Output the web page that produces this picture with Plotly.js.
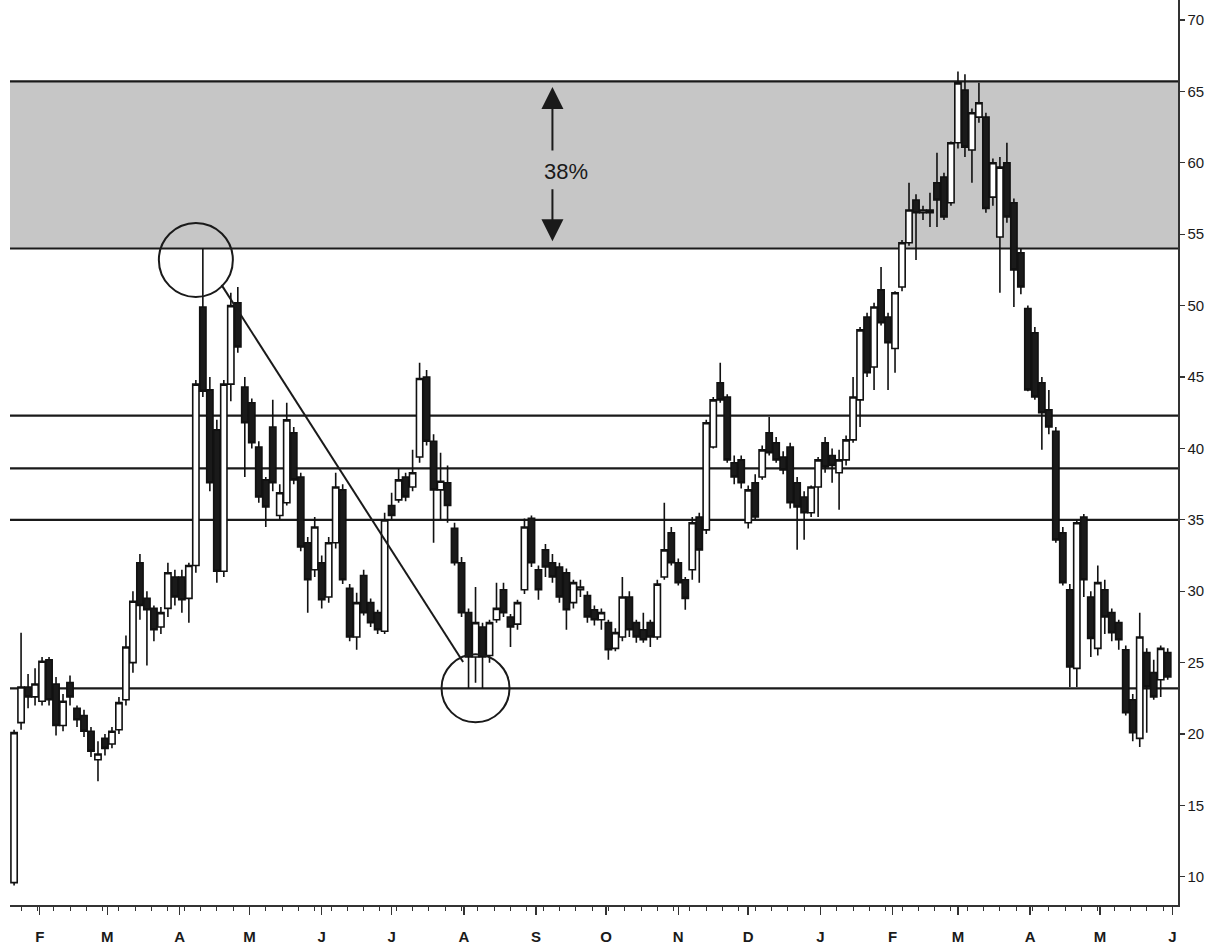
<!DOCTYPE html>
<html>
<head>
<meta charset="utf-8">
<script src="https://cdn.plot.ly/plotly-3.0.1.min.js"></script>
<style>html,body{margin:0;padding:0;background:#fff;}#chart{width:1220px;height:947px;}</style>
</head>
<body>
<div id="chart"></div>
<script>
// ---- data ----
var startDate = '2000-01-21';
var stepDays = 3;
var opens  = [9.6,20.8,23.3,22.6,22.3,25.2,23.5,20.6,23.6,21.8,21.3,20.2,18.2,19.7,19.3,20.3,22.4,25.0,32.0,29.5,
              28.8,27.5,28.8,31.0,31.0,29.5,31.8,49.9,44.1,41.3,31.4,44.5,50.2,44.3,43.2,40.1,37.8,41.5,35.3,36.2,
              41.1,38.0,33.4,31.5,32.0,29.6,33.4,37.1,30.2,26.8,31.1,29.2,28.5,27.2,36.0,36.4,38.0,37.3,39.4,45.0,
              40.5,37.1,37.6,34.4,32.0,28.5,25.4,27.5,25.5,28.0,30.1,28.2,27.7,30.1,35.1,31.5,32.9,32.0,31.7,31.3,
              29.2,30.1,29.7,28.7,28.0,27.8,26.0,26.8,29.6,27.8,27.3,27.8,26.8,31.0,34.1,32.0,30.8,31.5,35.2,34.3,
              40.1,44.6,43.6,39.0,39.2,34.8,37.6,38.0,41.1,40.4,39.4,40.1,37.6,36.6,35.5,37.3,40.4,39.5,38.3,39.2,
              40.6,43.4,49.2,45.7,51.1,49.2,47.0,51.3,54.4,57.4,56.5,56.7,58.6,59.0,57.2,61.4,65.1,60.9,63.2,63.2,
              57.6,54.8,60.0,57.2,53.7,49.8,48.1,44.6,42.7,41.2,34.1,30.1,24.6,35.2,29.6,26.0,30.1,28.5,27.8,25.9,
              22.4,19.7,25.7,24.3,23.8,25.7];
var highs  = [20.3,27.1,24.2,24.6,25.4,25.4,24.0,22.8,24.1,22.0,21.7,20.5,19.5,20.0,20.5,22.6,26.9,30.0,32.6,30.0,
              29.0,28.9,32.0,31.5,31.5,32.0,44.8,54.0,45.0,42.0,44.8,50.9,51.3,45.0,43.5,40.5,38.0,43.4,37.5,43.2,
              41.5,38.3,33.8,35.2,32.5,33.8,38.3,37.5,30.5,29.9,31.5,29.5,28.7,35.5,36.9,38.6,38.3,39.9,46.0,45.5,
              41.0,39.7,38.8,34.8,32.4,28.8,30.3,27.8,28.0,30.6,30.6,28.4,29.4,35.1,35.3,31.8,33.3,32.6,32.0,31.6,
              30.8,30.8,30.0,29.0,28.8,28.0,27.4,31.0,30.0,28.0,28.5,28.0,30.8,36.2,34.5,32.3,31.0,35.2,35.5,42.0,
              43.6,46.0,43.8,39.5,39.5,37.4,38.2,40.2,42.2,40.8,39.8,40.4,38.0,37.0,37.4,39.4,40.8,40.0,39.9,40.9,
              45.0,48.5,49.5,50.2,52.7,49.5,51.0,54.6,58.6,57.8,57.0,57.9,60.7,59.3,61.5,66.4,66.2,63.8,65.6,63.5,
              60.3,60.4,61.4,57.5,54.0,50.0,48.5,45.0,44.1,41.5,34.5,30.5,35.0,35.4,30.0,31.8,30.8,28.8,28.0,26.2,
              22.8,28.5,26.0,25.2,26.2,26.0];
var lows   = [9.4,20.3,21.8,22.0,22.0,22.0,19.9,20.2,22.0,20.5,19.8,18.4,16.7,18.5,19.0,20.0,22.0,24.3,28.0,24.8,
              26.5,27.0,28.2,29.0,28.5,27.8,31.3,43.6,37.0,30.6,31.0,43.3,46.7,38.0,40.0,36.2,34.5,37.0,35.0,36.0,
              37.5,32.8,28.5,31.0,28.8,29.2,33.0,30.5,26.5,25.9,28.3,27.5,27.0,27.0,35.0,36.2,36.3,37.0,39.0,40.2,
              33.4,35.0,34.8,31.8,28.2,23.2,23.6,23.2,25.0,27.8,28.2,26.1,27.3,29.8,31.7,29.4,31.0,30.6,29.2,27.3,
              28.8,29.6,27.8,27.6,27.3,25.2,25.8,26.5,26.8,26.4,26.4,26.1,26.6,30.8,31.8,30.4,28.7,30.8,30.6,34.0,
              40.0,43.2,39.0,37.5,37.2,34.4,35.0,37.8,39.5,39.0,38.2,35.8,32.9,33.6,35.2,35.2,38.3,37.6,35.7,38.8,
              40.4,41.5,45.0,44.1,48.6,44.1,45.3,51.0,54.2,53.2,56.0,55.5,55.5,56.0,57.0,61.0,60.4,58.6,62.8,56.5,
              57.0,50.9,55.8,49.9,50.8,44.0,43.4,39.9,41.0,33.4,30.4,23.3,23.3,29.6,25.4,25.5,27.0,26.5,25.9,21.3,
              19.5,19.1,20.1,22.4,22.6,23.8];
var closes = [20.1,23.3,22.6,23.5,25.1,22.4,20.6,22.3,22.6,21.0,20.2,18.8,18.6,19.0,20.2,22.2,26.1,29.3,29.0,28.7,
              27.3,28.5,31.3,29.6,29.4,31.8,44.5,44.0,37.6,31.4,44.5,50.0,47.1,41.8,40.4,36.6,35.9,37.6,36.9,42.0,
              37.8,33.1,30.8,34.5,29.4,33.4,37.3,30.8,26.8,29.2,28.5,27.8,27.3,35.0,35.3,37.8,36.6,38.3,44.9,40.5,
              37.1,37.7,36.0,32.0,28.5,25.4,27.8,25.4,27.8,28.8,28.5,27.5,29.2,34.5,32.0,30.1,31.7,31.0,29.6,28.7,
              30.6,30.3,28.2,28.0,28.5,25.9,27.1,29.6,27.3,26.8,26.6,26.8,30.5,32.9,32.0,30.6,29.5,34.8,32.9,41.8,
              43.4,43.4,39.2,38.0,37.6,37.1,35.2,39.9,39.7,39.2,38.5,36.2,35.9,35.5,37.3,39.2,38.7,38.8,39.2,40.6,
              43.6,48.3,45.3,49.9,48.8,47.4,50.9,54.4,56.7,56.5,56.7,56.5,57.4,56.2,61.4,65.6,61.1,63.5,64.2,56.8,
              60.0,59.7,56.2,52.5,51.3,44.1,43.6,42.5,41.5,33.6,30.6,24.7,34.8,30.8,26.7,30.6,28.2,27.1,26.6,21.5,
              20.1,26.8,23.3,22.6,26.0,24.0];

var levels = [65.7, 54.0, 42.3, 38.6, 35.0, 23.2];
var band = [54.0, 65.7];
var monthStarts = ['2000-02-01','2000-03-01','2000-04-01','2000-05-01','2000-06-01','2000-07-01','2000-08-01',
                   '2000-09-01','2000-10-01','2000-11-01','2000-12-01','2001-01-01','2001-02-01','2001-03-01',
                   '2001-04-01','2001-05-01','2001-06-01'];
var monthLabels = ['F','M','A','M','J','J','A','S','O','N','D','J','F','M','A','M','J'];
var trendLine = {x: ['2000-04-19', '2000-07-31 16:00'], y: [51.45, 25.04]};
var circles = [{x: '2000-04-08', y: 53.2, r: 37}, {x: '2000-08-06', y: 23.2, r: 34}];
var moveArrow = {x: '2000-09-08', top: 65.3, bottom: 54.5, textX: '2000-09-14', textY: 59.4, gapTop: 60.75, gapBottom: 58.25, label: '38%'};

// ---- build ----
var dates = [];
var t0 = Date.parse(startDate + 'T00:00:00Z');
for (var i = 0; i < opens.length; i++) {
  dates.push(new Date(t0 + i * stepDays * 86400000).toISOString().slice(0, 10));
}

var trace = {
  type: 'candlestick',
  x: dates, open: opens, high: highs, low: lows, close: closes,
  increasing: {line: {color: '#111', width: 1.6}, fillcolor: '#ffffff'},
  decreasing: {line: {color: '#111', width: 1.6}, fillcolor: '#1a1a1a'},
  whiskerwidth: 0,
  hoverinfo: 'skip',
  showlegend: false
};

var shapes = [];
shapes.push({type: 'rect', xref: 'paper', x0: 0, x1: 1, yref: 'y', y0: band[0], y1: band[1],
             fillcolor: '#c6c6c6', line: {width: 0}, layer: 'below'});
levels.forEach(function (v) {
  shapes.push({type: 'line', xref: 'paper', x0: 0, x1: 1, yref: 'y', y0: v, y1: v,
               line: {color: '#1a1a1a', width: 2.2}, layer: 'below'});
});
shapes.push({type: 'line', xref: 'x', yref: 'y', x0: trendLine.x[0], x1: trendLine.x[1],
             y0: trendLine.y[0], y1: trendLine.y[1], line: {color: '#1a1a1a', width: 2}});
circles.forEach(function (c) {
  shapes.push({type: 'circle', xref: 'x', yref: 'y', xsizemode: 'pixel', ysizemode: 'pixel',
               xanchor: c.x, yanchor: c.y, x0: -c.r, x1: c.r, y0: -c.r, y1: c.r,
               line: {color: '#1a1a1a', width: 2}, fillcolor: 'rgba(0,0,0,0)'});
});

var annotations = [
  {x: moveArrow.x, y: moveArrow.top, ax: moveArrow.x, ay: moveArrow.gapTop, xref: 'x', yref: 'y', axref: 'x', ayref: 'y',
   text: '', showarrow: true, arrowhead: 2, arrowsize: 2.2, arrowwidth: 2, arrowcolor: '#1a1a1a'},
  {x: moveArrow.x, y: moveArrow.bottom, ax: moveArrow.x, ay: moveArrow.gapBottom, xref: 'x', yref: 'y', axref: 'x', ayref: 'y',
   text: '', showarrow: true, arrowhead: 2, arrowsize: 2.2, arrowwidth: 2, arrowcolor: '#1a1a1a'},
  {x: moveArrow.textX, y: moveArrow.textY, xref: 'x', yref: 'y', text: moveArrow.label, showarrow: false,
   font: {family: 'Liberation Sans, Arial, sans-serif', size: 22, color: '#1a1a1a'}}
];

var layout = {
  width: 1220, height: 947,
  margin: {l: 10, r: 42, t: 0, b: 42},
  paper_bgcolor: '#ffffff', plot_bgcolor: '#ffffff',
  showlegend: false,
  boxgap: 0.1,
  boxgroupgap: 0,
  xaxis: {
    type: 'date',
    range: ['2000-01-19 06:00', '2001-06-03 10:00'],
    rangeslider: {visible: false},
    showgrid: false, zeroline: false,
    showline: true, linecolor: '#333', linewidth: 1.5,
    tickmode: 'array', tickvals: monthStarts, ticktext: monthLabels,
    ticks: 'outside', ticklen: 8, tickwidth: 1.5, tickcolor: '#333',
    ticklabelstandoff: 9,
    tickfont: {family: 'Liberation Sans, Arial, sans-serif', size: 15, color: '#1a1a1a', weight: 'bold'},
    minor: {dtick: 7 * 86400000, tick0: '2000-01-24', ticks: 'outside', ticklen: 4, tickwidth: 1, tickcolor: '#333', showgrid: false}
  },
  yaxis: {
    side: 'right',
    range: [8.03, 71.4],
    dtick: 5, tick0: 0,
    showgrid: false, zeroline: false,
    showline: true, linecolor: '#333', linewidth: 1.5,
    ticks: 'outside', ticklen: 5, tickwidth: 1.2, tickcolor: '#333',
    tickfont: {family: 'Liberation Sans, Arial, sans-serif', size: 15, color: '#1a1a1a'}
  },
  shapes: shapes,
  annotations: annotations
};

Plotly.newPlot('chart', [trace], layout, {displayModeBar: false, staticPlot: true});
</script>
</body>
</html>
